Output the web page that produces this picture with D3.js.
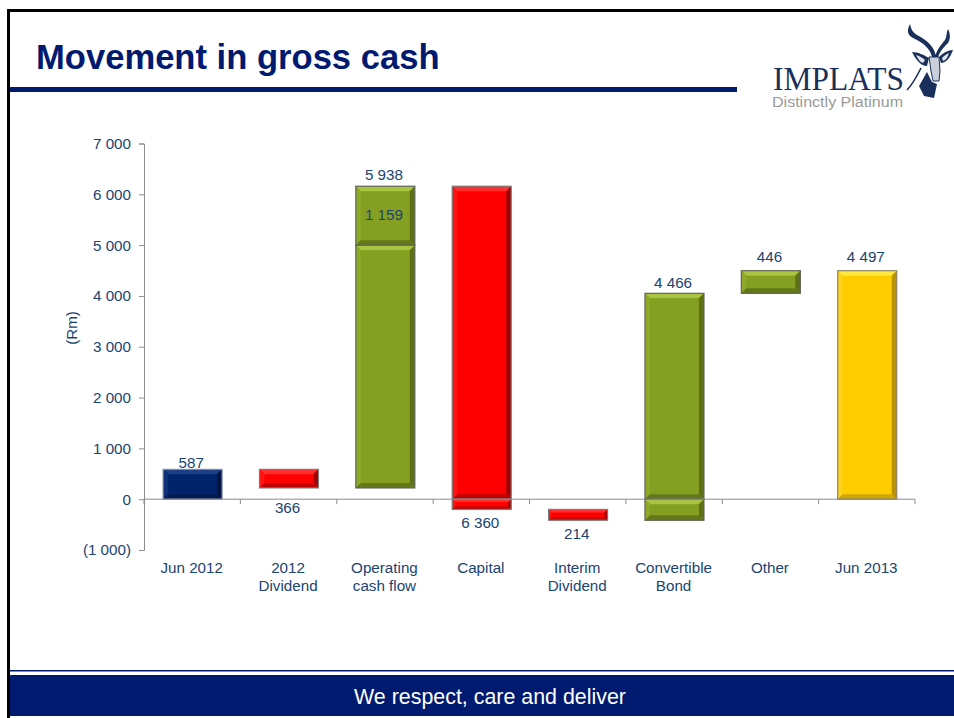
<!DOCTYPE html>
<html><head><meta charset="utf-8">
<script src="https://cdn.jsdelivr.net/npm/d3@7"></script>
<style>html,body{margin:0;padding:0;background:#fff}svg{display:block}text{font-family:"Liberation Sans",Arial,sans-serif}</style>
</head><body><div id="c"></div>
<script>
const categories=["Jun 2012","2012|Dividend","Operating|cash flow","Capital","Interim|Dividend","Convertible|Bond","Other","Jun 2013"];
const tickValues=[-1000,0,1000,2000,3000,4000,5000,6000,7000];
const tickLabels=["(1 000)","0","1 000","2 000","3 000","4 000","5 000","6 000","7 000"];
const segCategory=[0,1,2,2,3,3,4,5,5,6,7];
const segLow=[0,221,221,5000,0,-201,-415,0,-415,4051,0];
const segHigh=[587,587,5000,6159,6159,0,-201,4051,0,4497,4497];
const segKind=["navy","red","green","green","red","red","red","green","green","green","gold"];
const labelText=["587","366","5 938","1 159","6 360","214","4 466","446","4 497"];
const labelCategory=[0,1,2,2,3,4,5,6,7];
const labelValue=[520,100,6175,5590,-201,-415,4051,4560,4560];
const labelPlace=["above","below","above","mid","below","below","above","above","above"];

const W=954,H=718,navy="#001a70",txt="#1a4472",fs=15.2;
const svg=d3.select("#c").append("svg").attr("width",W).attr("height",H);
svg.append("rect").attr("width",W).attr("height",H).attr("fill","#fff");
svg.append("rect").attr("x",7).attr("y",9).attr("width",W-7).attr("height",3).attr("fill","#000");
svg.append("rect").attr("x",7).attr("y",9).attr("width",3).attr("height",709).attr("fill","#000");
svg.append("rect").attr("x",10).attr("y",87).attr("width",727).attr("height",5).attr("fill",navy);
svg.append("text").attr("x",36).attr("y",69).attr("font-size",34.6).attr("font-weight",700).attr("fill",navy).text("Movement in gross cash");
svg.append("rect").attr("x",10).attr("y",670).attr("width",W-10).attr("height",1.5).attr("fill",navy);
svg.append("rect").attr("x",10).attr("y",675).attr("width",W-10).attr("height",41).attr("fill",navy);
svg.append("text").attr("x",490).attr("y",704).attr("text-anchor","middle").attr("font-size",21.4).attr("fill","#fff").text("We respect, care and deliver");
// logo
const logo=svg.append("g");
logo.append("text").attr("x",773).attr("y",90).attr("font-size",33).attr("textLength",131).attr("lengthAdjust","spacingAndGlyphs").style("font-family","'Liberation Serif',serif").attr("fill","#1b2f5b").text("IMPLATS");
logo.append("text").attr("x",772).attr("y",107).attr("font-size",14).attr("textLength",131).attr("lengthAdjust","spacingAndGlyphs").attr("fill","#9a9a9a").text("Distinctly Platinum");
logo.append("path").attr("fill","#1b2f5b").attr("d","M910 24 C906 32 908 36 915 39 C923 43 930 48 932 57 L936 57 C935 47 927 40 917 35 C912 32 911 28 910 24 Z M948 29 C946 33 947 37 945 40 C941 45 937 49 935 57 L938 57 C940 51 944 47 948 43 C951 38 950 33 948 29 Z");
logo.append("path").attr("fill","#1b2f5b").attr("d","M912 52 C918 52 924 55 929 58 L927 66 C922 66 917 62 912 52 Z M953 50 C948 50 943 53 939 57 L941 63 C946 63 950 58 953 50 Z");
logo.append("path").attr("fill","#dfe3ea").attr("d","M916 55 C920 56 923 58 925 60 L923 63 C920 62 918 59 916 55 Z M949 53 C946 54 944 56 942 58 L943 61 C946 60 948 57 949 53 Z");
logo.append("path").attr("fill","#c9cfda").attr("stroke","#1b2f5b").attr("stroke-width",1).attr("d","M929 57 L939 57 L940 71 L939 81 L933 81 L931 71 Z");
logo.append("path").attr("fill","#1b2f5b").attr("d","M927 72 L932 82 L937 84 L934 98 L924 96 L919 86 Z");
logo.append("path").attr("fill","none").attr("stroke","#1b2f5b").attr("stroke-width",1.6).attr("d","M921 68 C916 78 912 85 907 90");

// chart
const y=d3.scaleLinear().domain([-1000,7000]).range([550,143.5]);
const x=d3.scaleBand().domain(d3.range(categories.length)).range([144,915]);
const axisCol="#8c8c8c";
const gy=svg.append("g").attr("transform","translate(144,0)")
 .call(d3.axisLeft(y).tickValues(tickValues).tickFormat((d,i)=>tickLabels[i]).tickSize(5).tickPadding(8));
gy.select(".domain").attr("stroke",axisCol);
gy.selectAll(".tick line").attr("stroke",axisCol);
gy.selectAll("text").attr("font-size",fs).attr("fill",txt).style("font-family","'Liberation Sans',sans-serif");
svg.append("text").attr("transform","translate(77,328) rotate(-90)").attr("text-anchor","middle").attr("font-size",fs).attr("fill",txt).text("(Rm)");

const pal={navy:{m:"#00246b",t:"#1c3f85",l:"#0f3178",r:"#00143f",b:"#001b52",e:"#8a93a8"},
 red:{m:"#ff0000",t:"#ff2f2f",l:"#ff1414",r:"#a00000",b:"#c00000",e:"#7d7d7d"},
 green:{m:"#859f22",t:"#a9c440",l:"#8ea82a",r:"#5d7017",b:"#64781a",e:"#62665a"},
 gold:{m:"#ffcc00",t:"#ffe83c",l:"#ffd21a",r:"#b89200",b:"#d0a600",e:"#8d8468"}};
const barW=59;
const bars=svg.append("g");
segLow.forEach((lo,i)=>{
  const c=pal[segKind[i]];
  const x0=x(segCategory[i])+(x.bandwidth()-barW)/2+0.4, x1=x0+barW;
  const y0=y(segHigh[i]), y1=y(lo), d=Math.min(5,(y1-y0)/3.5);
  const g=bars.append("g");
  const poly=(pts,f)=>g.append("polygon").attr("points",pts.map(p=>p.join(",")).join(" ")).attr("fill",f);
  poly([[x0,y0],[x1,y0],[x1,y1],[x0,y1]],c.m);
  poly([[x0,y0],[x1,y0],[x1-d,y0+d],[x0+d,y0+d]],c.t);
  poly([[x0,y0],[x0+d,y0+d],[x0+d,y1-d],[x0,y1]],c.l);
  poly([[x1,y0],[x1,y1],[x1-d,y1-d],[x1-d,y0+d]],c.r);
  poly([[x0,y1],[x1,y1],[x1-d,y1-d],[x0+d,y1-d]],c.b);
  g.append("rect").attr("x",x0).attr("y",y0).attr("width",barW).attr("height",y1-y0).attr("fill","none").attr("stroke",c.e).attr("stroke-width",1.2);
});
const gx=svg.append("g").attr("transform",`translate(0,${y(0)})`);
gx.append("line").attr("x1",144).attr("x2",915).attr("stroke",axisCol);
d3.range(categories.length+1).forEach(i=>{
  const px=144+i*x.bandwidth();
  gx.append("line").attr("x1",px).attr("x2",px).attr("y1",0).attr("y2",5).attr("stroke",axisCol);
});
categories.forEach((c,i)=>{
  const t=svg.append("text").attr("text-anchor","middle").attr("font-size",fs).attr("fill",txt);
  c.split("|").forEach((s,j)=>t.append("tspan").attr("x",x(i)+x.bandwidth()/2-0.5).attr("y",573+j*18).text(s));
});
labelText.forEach((s,i)=>{
  const base=y(labelValue[i]);
  const yy=labelPlace[i]==="above"?base-5:labelPlace[i]==="below"?base+19:base+5;
  svg.append("text").attr("x",x(labelCategory[i])+x.bandwidth()/2-1).attr("y",yy).attr("text-anchor","middle").attr("font-size",fs).attr("fill",txt).text(s);
});
</script></body></html>
